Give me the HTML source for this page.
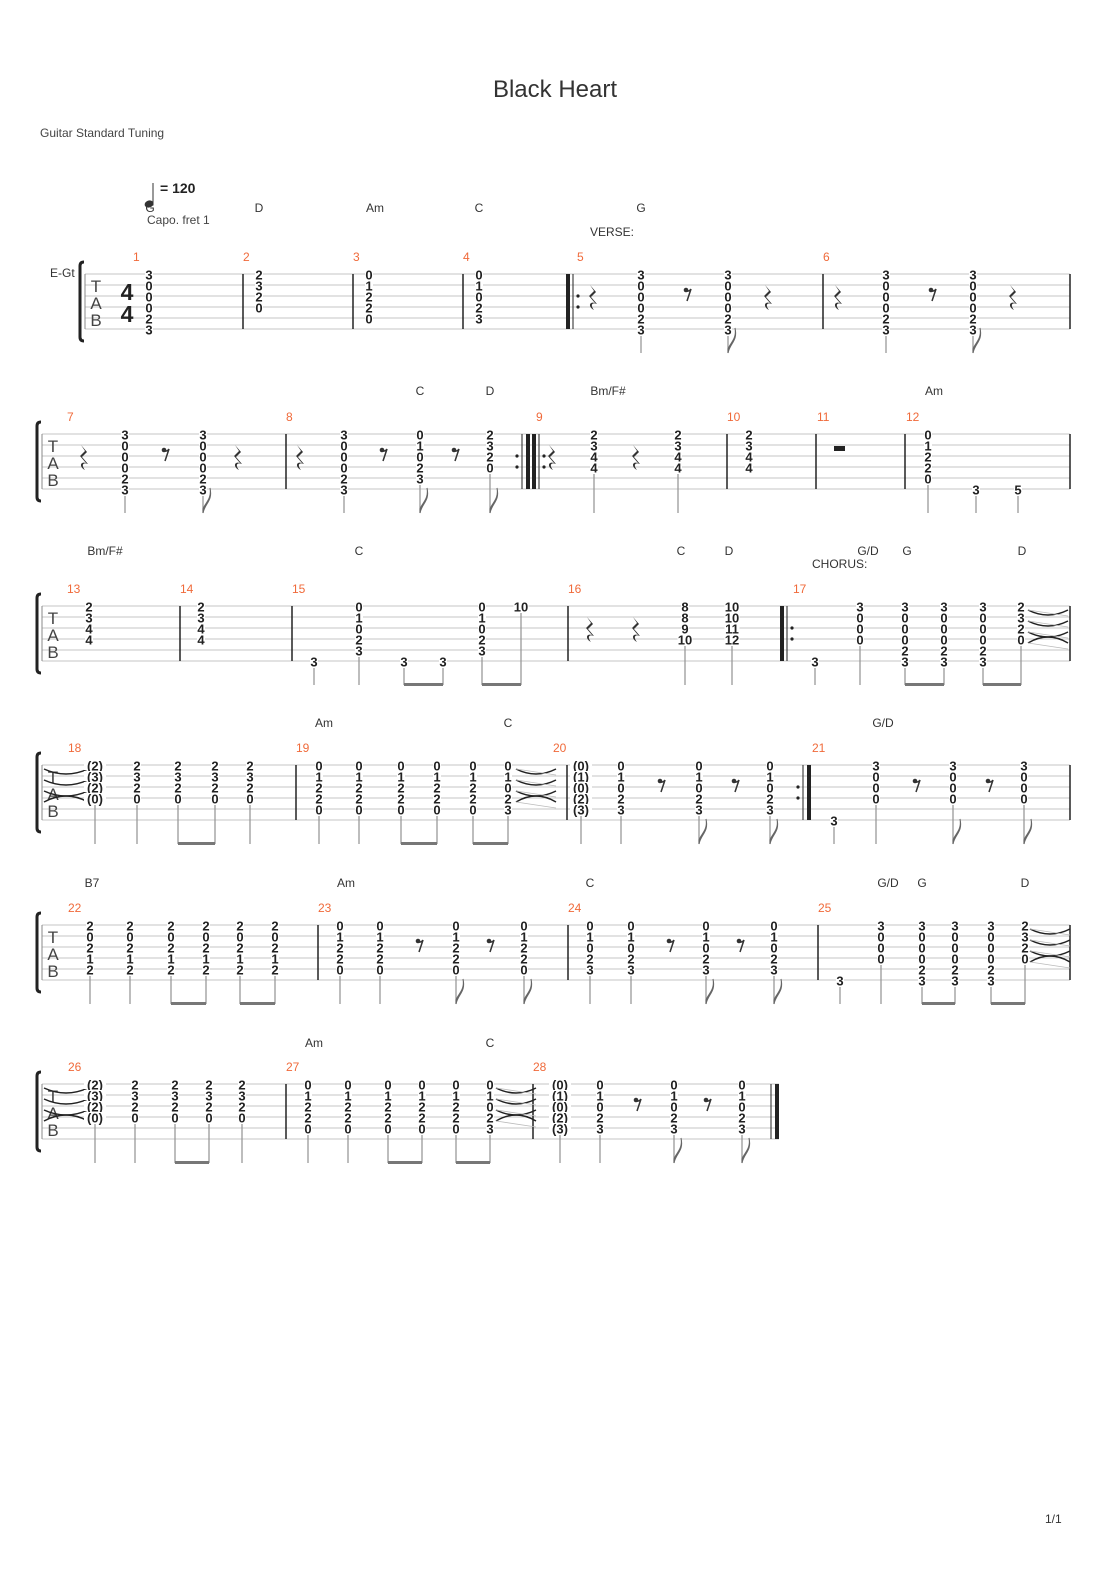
<!DOCTYPE html>
<html><head><meta charset="utf-8">
<style>
html,body{margin:0;padding:0;background:#fff;}
svg{display:block;}
text{font-family:"Liberation Sans",sans-serif;}
.n{font-size:13px;font-weight:bold;fill:#222;text-anchor:middle;dominant-baseline:central;}
.ch{font-size:12px;fill:#333;text-anchor:middle;}
.mn{font-size:12px;fill:#f06a3a;}
</style></head>
<body>
<svg id="s" xmlns="http://www.w3.org/2000/svg" width="1110" height="1570" viewBox="0 0 1110 1570">
<rect width="1110" height="1570" fill="#fff"/>
<text x="555" y="97" font-size="24" fill="#333" text-anchor="middle">Black Heart</text>
<text x="40" y="137" font-size="12" fill="#444">Guitar Standard Tuning</text>
<line x1="153" y1="183" x2="153" y2="205" stroke="#333" stroke-width="1"/>
<ellipse cx="149" cy="204" rx="4.5" ry="3.5" fill="#333" transform="rotate(-20 149 204)"/>
<text x="160" y="193" font-size="14" font-weight="bold" fill="#222">= 120</text>
<text x="147" y="224" font-size="12" fill="#444">Capo. fret 1</text>
<text x="50" y="277" font-size="12" fill="#333">E-Gt</text>
<text x="590" y="236" font-size="12" fill="#333">VERSE:</text>
<text x="812" y="568" font-size="12" fill="#333">CHORUS:</text>
<text x="1045" y="1523" font-size="12" fill="#333">1/1</text>
<g id="g"></g>
</svg>
<script>
var g=document.getElementById('g'),h='';
function L(x1,y1,x2,y2,c,w){h+='<line x1="'+x1+'" y1="'+y1+'" x2="'+x2+'" y2="'+y2+'" stroke="'+(c||'#bbb')+'" stroke-width="'+(w||1)+'"/>';}
function T(x,y,t,c){h+='<text x="'+x+'" y="'+y+'" class="'+c+'">'+t+'</text>';}
function staff(y0,x1,x2){
  for(var i=0;i<6;i++)L(x1,y0+11*i,x2,y0+11*i,'#c4c4c4',1);
  L(x1,y0,x1,y0+55,'#888',1);
  h+='<path d="M'+(x1-1)+','+(y0-12)+' q-4,0 -4,4 L'+(x1-5)+','+(y0+63)+' q0,4 4,4" fill="none" stroke="#222" stroke-width="3"/>';
  var tx=x1+11;
  h+='<text x="'+tx+'" y="'+(y0+18)+'" font-size="17" fill="#444" text-anchor="middle">T</text>';
  h+='<text x="'+tx+'" y="'+(y0+35)+'" font-size="17" fill="#444" text-anchor="middle">A</text>';
  h+='<text x="'+tx+'" y="'+(y0+52)+'" font-size="17" fill="#444" text-anchor="middle">B</text>';
}
function bar(x,y0){L(x,y0,x,y0+55,'#222',1.5);}
function rstart(x,y0){h+='<rect x="'+x+'" y="'+y0+'" width="4" height="55" fill="#222"/>';L(x+7,y0,x+7,y0+55,'#222',1);h+='<circle cx="'+(x+12)+'" cy="'+(y0+22)+'" r="1.6" fill="#222"/><circle cx="'+(x+12)+'" cy="'+(y0+33)+'" r="1.6" fill="#222"/>';}
function rend(x,y0){h+='<rect x="'+(x-4)+'" y="'+y0+'" width="4" height="55" fill="#222"/>';L(x-8,y0,x-8,y0+55,'#222',1);h+='<circle cx="'+(x-13)+'" cy="'+(y0+22)+'" r="1.6" fill="#222"/><circle cx="'+(x-13)+'" cy="'+(y0+33)+'" r="1.6" fill="#222"/>';}
function col(x,y0,f,st){
  var low=-1;
  for(var i=0;i<6;i++){if(f[i]!==null&&f[i]!==undefined&&f[i]!==''){
    var s=String(f[i]);var w=s.length*7+1;
    h+='<rect x="'+(x-w/2)+'" y="'+(y0+11*i-5)+'" width="'+w+'" height="10" fill="#fff"/>';
    T(x,y0+11*i+1,s,'n');low=i;}}
  if(st&&st!=='n'){var sy=y0+11*low+7,by=y0+79;L(x,sy,x,by,'#999',1.3);
    if(st==='e')h+='<path d="M'+x+','+by+' C'+(x+2)+','+(by-10)+' '+(x+10)+','+(by-12)+' '+(x+7)+','+(by-25)+' C'+(x+9)+','+(by-14)+' '+(x+2)+','+(by-10)+' '+x+','+(by-4)+'Z" fill="#666" stroke="#666" stroke-width="1"/>';}
}
function beam(x1,x2,y0){h+='<rect x="'+x1+'" y="'+(y0+77)+'" width="'+(x2-x1)+'" height="3" fill="#777"/>';}
function qr(x,y0){var y=y0+11;h+='<path d="M'+(x-3)+','+y+' l6,7 l-5,5 l6,7 c-5,-2 -7,1 -3,6 c-6,-3 -5,-9 1,-7 l-6,-7 l5,-5 z" fill="#333"/>';}
function er(x,y0){var y=y0+16;h+='<circle cx="'+(x-2)+'" cy="'+y+'" r="2.3" fill="#333"/><path d="M'+(x-3)+','+(y+1)+' q4,1 6,-2 l-4,12" fill="none" stroke="#333" stroke-width="1.5"/>';}
function ties(x,y0){for(var i=0;i<3;i++){var y=y0+11*i+4;h+='<path d="M'+x+','+y+' Q'+(x+20)+','+(y+10)+' '+(x+40)+','+y+'" fill="none" stroke="#222" stroke-width="1.5"/>';}
  var y=y0+37;h+='<path d="M'+x+','+y+' Q'+(x+20)+','+(y-12)+' '+(x+40)+','+y+'" fill="none" stroke="#222" stroke-width="1.5"/>';
  for(var i=0;i<4;i++){L(x,y0+11*i+4,x+40,y0+11*i+4+6,'#bbb',0.8);}}
function tiesL(x,y0){for(var i=0;i<3;i++){var y=y0+11*i+4;h+='<path d="M'+x+','+y+' Q'+(x+22)+','+(y+10)+' '+(x+44)+','+y+'" fill="none" stroke="#222" stroke-width="1.5"/>';}
  var y=y0+37;h+='<path d="M'+x+','+y+' Q'+(x+22)+','+(y-12)+' '+(x+44)+','+y+'" fill="none" stroke="#222" stroke-width="1.5"/>';}
function mn(x,y0,t){T(x,y0-13,t,'mn');}
function ch(x,y,t){T(x,y,t,'ch');}
var F6=[3,0,0,0,2,3],C5=[0,1,0,2,3],Bm=[2,3,4,4],Am=[0,1,2,2,0],D4=[2,3,2,0],G4=[3,0,0,0],B7=[2,0,2,1,2],S3=[null,null,null,null,null,3];
var P4=['(2)','(3)','(2)','(0)'],PC=['(0)','(1)','(0)','(2)','(3)'];
var y;
y=274;staff(y,85,1070);
h+='<text x="127" y="'+(y+26)+'" font-size="23" font-weight="bold" fill="#222" text-anchor="middle" font-family="Liberation Serif">4</text><text x="127" y="'+(y+48)+'" font-size="23" font-weight="bold" fill="#222" text-anchor="middle" font-family="Liberation Serif">4</text>';
bar(243,y);bar(353,y);bar(463,y);rstart(566,y);bar(823,y);bar(1070,y);
mn(133,y,1);mn(243,y,2);mn(353,y,3);mn(463,y,4);mn(577,y,5);mn(823,y,6);
ch(150,212,'G');ch(259,212,'D');ch(375,212,'Am');ch(479,212,'C');ch(641,212,'G');
col(149,y,F6,'n');col(259,y,D4,'n');col(369,y,Am,'n');col(479,y,C5,'n');
qr(593,y);col(641,y,F6,'q');er(688,y);col(728,y,F6,'e');qr(768,y);
qr(838,y);col(886,y,F6,'q');er(933,y);col(973,y,F6,'e');qr(1013,y);
y=434;staff(y,42,1070);
bar(286,y);rend(530,y);rstart(532,y);bar(727,y);bar(816,y);bar(905,y);bar(1070,y);
mn(67,y,7);mn(286,y,8);mn(536,y,9);mn(727,y,10);mn(817,y,11);mn(906,y,12);
ch(420,395,'C');ch(490,395,'D');ch(608,395,'Bm/F#');ch(934,395,'Am');
qr(84,y);col(125,y,F6,'q');er(166,y);col(203,y,F6,'e');qr(238,y);
qr(300,y);col(344,y,F6,'q');er(384,y);col(420,y,C5,'e');er(456,y);col(490,y,D4,'e');
qr(552,y);col(594,y,Bm,'q');qr(636,y);col(678,y,Bm,'q');
col(749,y,Bm,'n');h+='<rect x="834" y="'+(y+12)+'" width="11" height="5" fill="#222"/>';
col(928,y,Am,'q');col(976,y,S3,'q');col(1018,y,[null,null,null,null,null,5],'q');
y=606;staff(y,42,1070);
bar(180,y);bar(292,y);bar(568,y);rstart(780,y);bar(1070,y);
mn(67,y,13);mn(180,y,14);mn(292,y,15);mn(568,y,16);mn(793,y,17);
ch(105,555,'Bm/F#');ch(359,555,'C');ch(681,555,'C');ch(729,555,'D');ch(868,555,'G/D');ch(907,555,'G');ch(1022,555,'D');
col(89,y,Bm,'n');col(201,y,Bm,'n');
col(314,y,S3,'q');col(359,y,C5,'q');col(404,y,S3,'q');col(443,y,S3,'q');beam(404,443,y);
col(482,y,C5,'q');col(521,y,['10'],'q');beam(482,521,y);
qr(590,y);qr(636,y);col(685,y,[8,8,9,10],'q');col(732,y,[10,10,11,12],'q');
col(815,y,S3,'q');col(860,y,G4,'q');col(905,y,F6,'q');col(944,y,F6,'q');beam(905,944,y);
col(983,y,F6,'q');col(1021,y,D4,'q');beam(983,1021,y);ties(1028,y);
y=765;staff(y,42,1070);
bar(296,y);bar(567,y);rend(811,y);bar(1070,y);
mn(68,y,18);mn(296,y,19);mn(553,y,20);mn(812,y,21);
ch(324,727,'Am');ch(508,727,'C');ch(883,727,'G/D');
tiesL(44,y);
col(95,y,P4,'q');col(137,y,D4,'q');col(178,y,D4,'q');col(215,y,D4,'q');beam(178,215,y);col(250,y,D4,'q');
col(319,y,Am,'q');col(359,y,Am,'q');col(401,y,Am,'q');col(437,y,Am,'q');beam(401,437,y);
col(473,y,Am,'q');col(508,y,C5,'q');beam(473,508,y);ties(516,y);
col(581,y,PC,'q');col(621,y,C5,'q');er(662,y);col(699,y,C5,'e');er(736,y);col(770,y,C5,'e');
col(834,y,S3,'q');col(876,y,G4,'q');er(917,y);col(953,y,G4,'e');er(990,y);col(1024,y,G4,'e');
y=925;staff(y,42,1070);
bar(318,y);bar(568,y);bar(818,y);bar(1070,y);
mn(68,y,22);mn(318,y,23);mn(568,y,24);mn(818,y,25);
ch(92,887,'B7');ch(346,887,'Am');ch(590,887,'C');ch(888,887,'G/D');ch(922,887,'G');ch(1025,887,'D');
col(90,y,B7,'q');col(130,y,B7,'q');col(171,y,B7,'q');col(206,y,B7,'q');beam(171,206,y);col(240,y,B7,'q');col(275,y,B7,'q');beam(240,275,y);
col(340,y,Am,'q');col(380,y,Am,'q');er(420,y);col(456,y,Am,'e');er(491,y);col(524,y,Am,'e');
col(590,y,C5,'q');col(631,y,C5,'q');er(671,y);col(706,y,C5,'e');er(741,y);col(774,y,C5,'e');
col(840,y,S3,'q');col(881,y,G4,'q');col(922,y,F6,'q');col(955,y,F6,'q');beam(922,955,y);col(991,y,F6,'q');col(1025,y,D4,'q');beam(991,1025,y);ties(1030,y);
y=1084;staff(y,42,779);
bar(286,y);bar(533,y);L(771,y,771,y+55,'#222',1);h+='<rect x="775" y="'+y+'" width="4" height="55" fill="#222"/>';
mn(68,y,26);mn(286,y,27);mn(533,y,28);
ch(314,1047,'Am');ch(490,1047,'C');
tiesL(44,y);
col(95,y,P4,'q');col(135,y,D4,'q');col(175,y,D4,'q');col(209,y,D4,'q');beam(175,209,y);col(242,y,D4,'q');
col(308,y,Am,'q');col(348,y,Am,'q');col(388,y,Am,'q');col(422,y,Am,'q');beam(388,422,y);col(456,y,Am,'q');col(490,y,C5,'q');beam(456,490,y);ties(496,y);
col(560,y,PC,'q');col(600,y,C5,'q');er(638,y);col(674,y,C5,'e');er(708,y);col(742,y,C5,'e');
g.innerHTML=h;
</script>
</body></html>
